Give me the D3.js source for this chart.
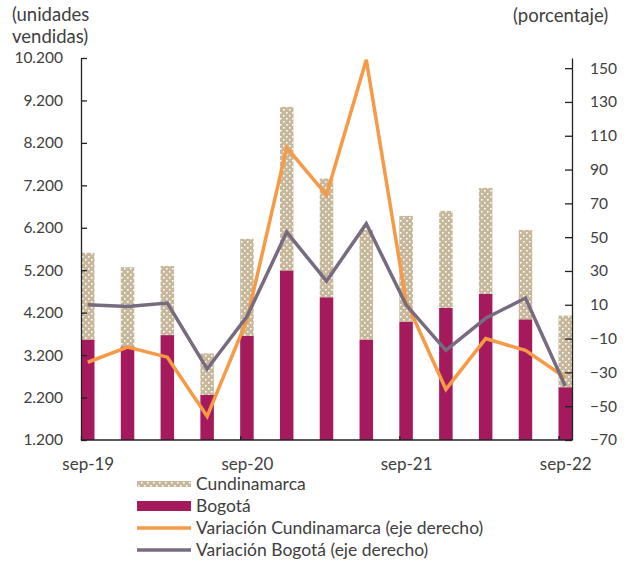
<!DOCTYPE html>
<html>
<head>
<meta charset="utf-8">
<script src="https://cdn.jsdelivr.net/npm/d3@7"></script>
<style>
    body {margin: 0; background: #fff;}
    text {font-family: Lato, 'Open Sans', sans-serif; fill: #404040;}
</style>
</head>
<body>
<svg id="svg" width="631" height="561"></svg>
<script>

// trimestres, de sep-19 a sep-22
const quarters = ['sep-19', 'dic-19', 'mar-20', 'jun-20', 'sep-20', 'dic-20', 'mar-21',
                  'jun-21', 'sep-21', 'dic-21', 'mar-22', 'jun-22', 'sep-22'];
const tickLabels = ['sep-19', 'sep-20', 'sep-21', 'sep-22'];

// unidades vendidas
const bogota       = [3560, 3400, 3670, 2260, 3650, 5190, 4560, 3560, 3980, 4310, 4640, 4040, 2440];
const cundinamarca = [2050, 1870, 1630, 980, 2290, 3860, 2800, 2590, 2500, 2290, 2500, 2110, 1690];

// variacion anual (%)
const varCundinamarca = [-24, -15, -21, -56, 1, 103, 75, 155, 12, -40, -10, -17, -33];
const varBogota       = [10, 9, 11, -28, 3, 53, 24, 58, 10, -17, 2, 14, -38];

const leftTicks = d3.range(1200, 10201, 1000);
const rightTicks = d3.range(-70, 151, 20);

const colBogota = '#a51a5c';
const colCund = '#c8b89b';
const colVarCund = '#f79a46';
const colVarBog = '#776b80';

const m = {left: 81, right: 572, top: 58, bottom: 440};
const barW = 13.5;

const fmt = d3.formatLocale({decimal: ',', thousands: '.', grouping: [3], currency: ['$', '']}).format(',');

const svg = d3.select('#svg');

// patron punteado de Cundinamarca
const pat = svg.append('defs')
    .append('pattern')
        .attr('id', 'dots')
        .attr('patternUnits', 'userSpaceOnUse')
        .attr('width', 6)
        .attr('height', 6);
pat.append('rect').attr('width', 6).attr('height', 6).style('fill', colCund);
pat.append('rect').attr('x', 1).attr('y', 1).attr('width', 1.6).attr('height', 1.6).style('fill', '#fff');
pat.append('rect').attr('x', 4).attr('y', 4).attr('width', 1.6).attr('height', 1.6).style('fill', '#fff');

const x = d3.scalePoint()
    .domain(quarters)
    .range([m.left + barW / 2, m.right - barW / 2]);

const yL = d3.scaleLinear()
    .domain([1200, 10200])
    .range([m.bottom, m.top])
    .clamp(true);

const yR = d3.scaleLinear()
    .domain([-70, 156])
    .range([m.bottom, m.top]);

const data = quarters.map((q, i) => ({q: q, b: bogota[i], c: cundinamarca[i], vc: varCundinamarca[i], vb: varBogota[i]}));

// barras
const bars = svg.append('g').attr('id', 'bars');

bars.selectAll('.bar-cund')
    .data(data)
    .enter()
    .append('rect')
        .attr('class', 'bar-cund')
        .attr('x', d => x(d.q) - barW / 2)
        .attr('y', d => yL(d.b + d.c))
        .attr('width', barW)
        .attr('height', d => yL(d.b) - yL(d.b + d.c))
        .style('fill', 'url(#dots)');

bars.selectAll('.bar-bog')
    .data(data)
    .enter()
    .append('rect')
        .attr('class', 'bar-bog')
        .attr('x', d => x(d.q) - barW / 2)
        .attr('y', d => yL(d.b))
        .attr('width', barW)
        .attr('height', d => yL(1200) - yL(d.b))
        .style('fill', colBogota);

// ejes
const axL = svg.append('g')
    .attr('transform', `translate(${m.left},0)`)
    .call(d3.axisLeft(yL).tickValues(leftTicks).tickFormat(fmt).tickSize(-6).tickSizeOuter(0).tickPadding(18));

const axR = svg.append('g')
    .attr('transform', `translate(${m.right},0)`)
    .call(d3.axisRight(yR).tickValues(rightTicks).tickSize(-7).tickSizeOuter(0).tickPadding(18));

const axB = svg.append('g')
    .attr('transform', `translate(0,${m.bottom})`)
    .call(d3.axisBottom(x).tickValues(tickLabels).tickSize(-4).tickSizeOuter(0).tickPadding(18));

axB.select('.domain').attr('d', `M${m.left},0H${m.right}`);
axB.selectAll('.tick line').attr('x1', -barW / 2).attr('x2', -barW / 2);

[axL, axR, axB].forEach(a => {
    a.select('.domain').style('stroke', '#222').style('stroke-width', 1.3);
    a.selectAll('.tick line').style('stroke', '#222').style('stroke-width', 1.3);
    a.selectAll('.tick text').style('font-size', '15.5px').style('fill', '#404040');
});
axL.selectAll('.tick text').attr('text-anchor', 'end');
axR.selectAll('.tick text').attr('text-anchor', 'start');
axB.selectAll('.tick text').style('font-size', '17px');

// lineas de variacion
const lineC = d3.line().x(d => x(d.q)).y(d => yR(d.vc));
const lineB = d3.line().x(d => x(d.q)).y(d => yR(d.vb));

svg.append('path')
    .datum(data)
    .attr('d', lineC)
    .style('fill', 'none')
    .style('stroke', colVarCund)
    .style('stroke-width', 3.5);

svg.append('path')
    .datum(data)
    .attr('d', lineB)
    .style('fill', 'none')
    .style('stroke', colVarBog)
    .style('stroke-width', 3.5);

// titulos de eje
svg.append('text')
    .attr('x', 12)
    .attr('y', 21)
    .style('font-size', '18.5px')
    .text('(unidades');
svg.append('text')
    .attr('x', 12)
    .attr('y', 43)
    .style('font-size', '18.5px')
    .text('vendidas)');
svg.append('text')
    .attr('x', 513)
    .attr('y', 22)
    .style('font-size', '18.5px')
    .text('(porcentaje)');

// leyenda
const legendItems = [
    {label: 'Cundinamarca', type: 'pat', h: 6},
    {label: 'Bogotá', type: 'bar', h: 10},
    {label: 'Variación Cundinamarca (eje derecho)', type: 'line', color: colVarCund},
    {label: 'Variación Bogotá (eje derecho)', type: 'line', color: colVarBog}
];

const legend = svg.append('g')
    .attr('transform', 'translate(137,484)');

const li = legend.selectAll('.legend-item')
    .data(legendItems)
    .enter()
    .append('g')
        .attr('class', 'legend-item')
        .attr('transform', (d, i) => `translate(0,${i * 22})`);

li.filter(d => d.type != 'line')
    .append('rect')
        .attr('x', 0)
        .attr('y', d => -d.h / 2)
        .attr('width', 54)
        .attr('height', d => d.h)
        .style('fill', d => d.type == 'pat' ? 'url(#dots)' : colBogota);

li.filter(d => d.type == 'line')
    .append('line')
        .attr('x1', 0)
        .attr('x2', 54)
        .style('stroke', d => d.color)
        .style('stroke-width', 3.5);

li.append('text')
    .attr('x', 59)
    .attr('dy', '0.35em')
    .style('font-size', '17.5px')
    .text(d => d.label);

</script>
</body>
</html>
